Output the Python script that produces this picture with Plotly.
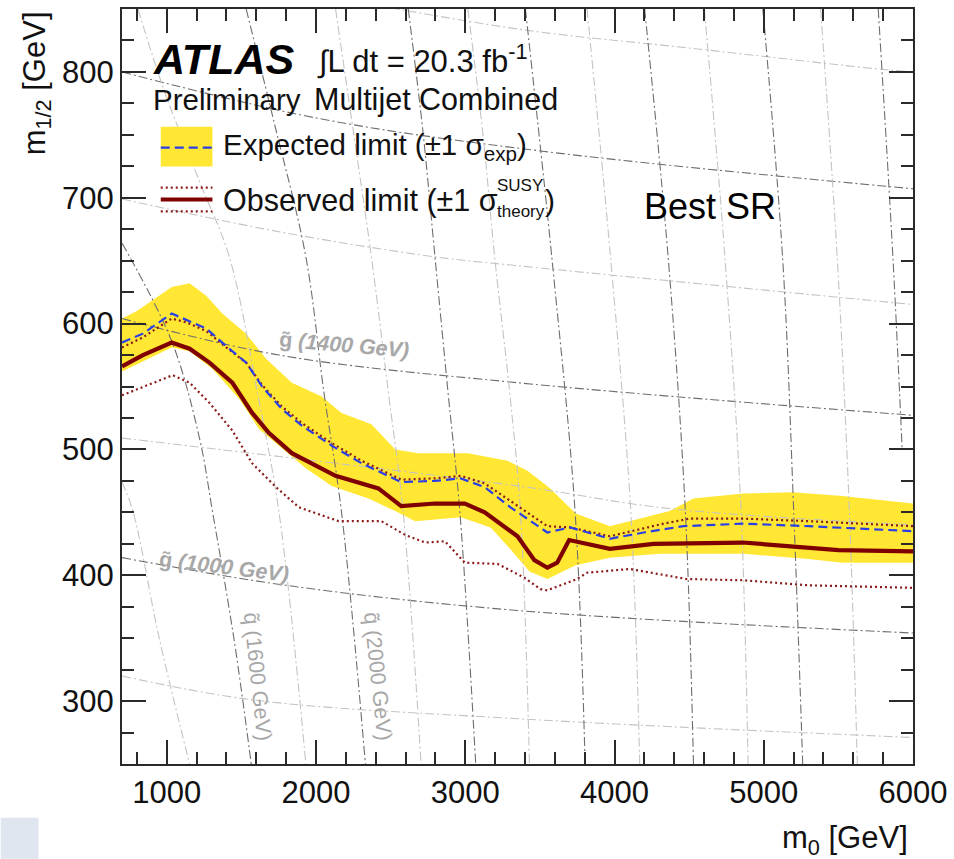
import plotly.graph_objects as go

# ---------------- data (m0 [GeV], m1/2 [GeV]) ----------------
obs_m0 = [700, 840, 1033, 1153, 1286, 1439, 1572, 1685, 1838, 1972, 2131, 2418, 2571, 2797, 2997, 3130, 3350, 3463, 3550, 3616, 3696, 3969, 4262, 4861, 5500, 6000]
obs_m12 = [566, 575, 585, 580, 569, 553, 529, 513, 497, 489, 479, 469, 455, 457, 457, 450, 431, 412, 406, 410, 428, 421, 425, 426, 420, 419]

exp_m0 = [700, 840, 1033, 1133, 1266, 1399, 1532, 1639, 1772, 1905, 2105, 2305, 2571, 2797, 2970, 3130, 3303, 3550, 3703, 3969, 4196, 4462, 4861, 5300, 6000]
exp_m12 = [585, 592, 608, 603, 596, 582, 569, 550, 532, 519, 503, 489, 474, 475, 477, 470, 454, 434, 438, 429, 434, 439, 441, 439, 435]

thup_m0 = [700, 840, 1033, 1133, 1266, 1399, 1532, 1639, 1772, 1905, 2105, 2305, 2571, 2797, 2970, 3130, 3303, 3550, 3703, 3969, 4329, 4502, 4861, 5300, 6000]
thup_m12 = [581, 589, 604, 601, 594, 581, 569, 551, 534, 521, 505, 491, 476, 477, 479, 473, 459, 439, 438, 431, 441, 445, 445, 443, 439]

thdn_m0 = [700, 1040, 1153, 1286, 1439, 1572, 1732, 1885, 2151, 2438, 2598, 2731, 2864, 2997, 3217, 3397, 3503, 3550, 3749, 3816, 4102, 4482, 4861, 5300, 6000]
thdn_m12 = [543, 559, 553, 537, 515, 489, 470, 454, 443, 443, 432, 426, 427, 410, 409, 398, 389, 388, 397, 402, 405, 397, 396, 392, 390]

bandup_m0 = [700, 800, 1033, 1153, 1266, 1372, 1532, 1665, 1838, 2038, 2171, 2371, 2531, 2684, 3017, 3283, 3417, 3570, 3740, 3969, 4369, 4529, 4861, 5194, 5527, 6000]
bandup_m12 = [604, 610, 629, 632, 622, 608, 592, 572, 553, 542, 529, 520, 500, 497, 497, 491, 483, 469, 449, 439, 451, 461, 465, 466, 463, 457]
banddn_m0 = [700, 1033, 1153, 1306, 1486, 1619, 1732, 1932, 2105, 2351, 2531, 2664, 2970, 3170, 3300, 3430, 3550, 3740, 3969, 4302, 4861, 5300, 5527, 6000]
banddn_m12 = [562, 581, 578, 564, 540, 516, 505, 485, 471, 461, 451, 443, 446, 438, 421, 403, 397, 408, 414, 417, 417, 413, 410, 410]

# gluino mass contours
g800_m0 = [700, 1572, 3350, 6013];  g800_m12 = [320, 301, 286, 271]
g1000_m0 = [700, 1799, 3350, 6013]; g1000_m12 = [414, 392, 372, 354]
g1200_m0 = [700, 3350, 4369, 6013]; g1200_m12 = [509, 471, 453, 440]
g1400_m0 = [700, 1752, 3350, 6013]; g1400_m12 = [604, 575, 553, 527]
g1600_m0 = [700, 1752, 2797, 3350, 6013]; g1600_m12 = [699, 673, 653, 646, 615]
g1800_m0 = [700, 2018, 3516, 6013]; g1800_m12 = [800, 763, 737, 707]
g2000_m0 = [2500, 3417, 4500, 5793, 6000]; g2000_m12 = [851, 833, 819, 802, 800]

# squark mass contours
q1400_m0 = [700, 773, 953, 1153]; q1400_m12 = [474, 451, 348, 250]
q1600_m0 = [700, 1033, 1219, 1306, 1452, 1566]; q1600_m12 = [664, 586, 509, 451, 348, 250]
q1800_m0 = [807, 986, 1219, 1419, 1606, 1752, 1932]; q1800_m12 = [850, 784, 713, 653, 546, 450, 250]
q2000_m0 = [1532, 1719, 1932, 2052, 2171, 2331]; q2000_m12 = [850, 760, 653, 546, 450, 250]
q2200_m0 = [2131, 2251, 2371, 2484, 2584, 2704]; q2200_m12 = [850, 752, 653, 546, 450, 250]
q2400_m0 = [2618, 2717, 2797, 2884, 2964, 3070]; q2400_m12 = [850, 752, 653, 546, 450, 250]
q2600_m0 = [3017, 3117, 3197, 3297, 3370, 3430]; q2600_m12 = [850, 752, 653, 546, 450, 250]
q2800_m0 = [3403, 3583, 3736, 3803]; q2800_m12 = [850, 649, 450, 250]
q3000_m0 = [3816, 3976, 4109, 4169]; q3000_m12 = [850, 649, 450, 250]
q3200_m0 = [4202, 4362, 4475, 4529]; q3200_m12 = [850, 649, 450, 250]
q3400_m0 = [4602, 4742, 4848, 4895]; q3400_m12 = [850, 649, 450, 250]
q3600_m0 = [4994, 5128, 5201, 5261]; q3600_m12 = [850, 649, 450, 250]
q3800_m0 = [5381, 5494, 5574, 5627]; q3800_m12 = [850, 649, 450, 250]
q4000_m0 = [5767, 5867, 5927]; q4000_m12 = [850, 649, 501]

x_tickvals = [1000, 2000, 3000, 4000, 5000, 6000]
y_tickvals = [300, 400, 500, 600, 700, 800]
x_minor_step = 200
y_minor_step = 25

# ---------------- figure ----------------
W, H = 954, 859
L, R, T, B = 122, 918, 7, 764
PW, PH = R - L, B - T
def px(x): return (x - L) / PW
def py(y): return (B - y) / PH

FONT = "Liberation Sans, Arial, sans-serif"
DARK = "#6e6e6e"
LIGHT = "#c4c4c4"
AX = "#2a2a2a"
XR = [700, 6000]
YR = [250, 850]

fig = go.Figure()

fig.add_trace(go.Scatter(x=bandup_m0 + banddn_m0[::-1], y=bandup_m12 + banddn_m12[::-1],
                         fill="toself", fillcolor="#ffe733", mode="lines",
                         line=dict(width=0), hoverinfo="skip", showlegend=False))

contours = [
    (g800_m0, g800_m12, LIGHT), (g1000_m0, g1000_m12, DARK), (g1200_m0, g1200_m12, LIGHT),
    (g1400_m0, g1400_m12, DARK), (g1600_m0, g1600_m12, LIGHT), (g1800_m0, g1800_m12, DARK),
    (g2000_m0, g2000_m12, LIGHT),
    (q1400_m0, q1400_m12, LIGHT), (q1600_m0, q1600_m12, DARK), (q1800_m0, q1800_m12, LIGHT),
    (q2000_m0, q2000_m12, DARK), (q2200_m0, q2200_m12, LIGHT), (q2400_m0, q2400_m12, DARK),
    (q2600_m0, q2600_m12, LIGHT), (q2800_m0, q2800_m12, DARK), (q3000_m0, q3000_m12, LIGHT),
    (q3200_m0, q3200_m12, DARK), (q3400_m0, q3400_m12, LIGHT), (q3600_m0, q3600_m12, DARK),
    (q3800_m0, q3800_m12, LIGHT), (q4000_m0, q4000_m12, DARK),
]
for xs, ys, col in contours:
    fig.add_trace(go.Scatter(x=xs, y=ys, mode="lines", line_shape="spline",
                             line=dict(color=col, width=1.1, dash="9px,3px,2px,3px"),
                             hoverinfo="skip", showlegend=False))

fig.add_trace(go.Scatter(x=thdn_m0, y=thdn_m12, mode="lines",
                         line=dict(color="#8b1a1a", width=2.2, dash="2px,3px"), showlegend=False))
fig.add_trace(go.Scatter(x=thup_m0, y=thup_m12, mode="lines",
                         line=dict(color="#8b1a1a", width=2.2, dash="2px,3px"), showlegend=False))
fig.add_trace(go.Scatter(x=exp_m0, y=exp_m12, mode="lines",
                         line=dict(color="#2b3fe6", width=2.2, dash="9px,5px"), showlegend=False))
fig.add_trace(go.Scatter(x=obs_m0, y=obs_m12, mode="lines",
                         line=dict(color="#7f0000", width=4.2), showlegend=False))

tf = dict(family=FONT, size=31, color="#111111")
fig.update_layout(
    xaxis=dict(range=XR, tickmode="array", tickvals=x_tickvals, ticks="inside", ticklen=24,
               tickwidth=2, tickcolor=AX, showline=True, linewidth=2, linecolor=AX,
               mirror="allticks", showgrid=False, zeroline=False, tickfont=tf,
               minor=dict(dtick=x_minor_step, tick0=0, ticks="inside", ticklen=12,
                          tickwidth=1.6, tickcolor=AX, showgrid=False)),
    yaxis=dict(range=YR, tickmode="array", tickvals=y_tickvals, ticks="inside", ticklen=24,
               tickwidth=2, tickcolor=AX, showline=True, linewidth=2, linecolor=AX,
               mirror="allticks", showgrid=False, zeroline=False, tickfont=tf,
               minor=dict(dtick=y_minor_step, tick0=0, ticks="inside", ticklen=12,
                          tickwidth=1.6, tickcolor=AX, showgrid=False)),
)

ann = []
def text(x, y, s, size, color="#111111", xanchor="left", yanchor="middle", angle=0, family=FONT):
    ann.append(dict(x=px(x), y=py(y), xref="paper", yref="paper", text=s, showarrow=False,
                    xanchor=xanchor, yanchor=yanchor, textangle=angle,
                    font=dict(family=family, size=size, color=color)))

text(151, 57, "<b><i>ATLAS</i></b>", 43, color="#000000")
text(316, 57, "∫L dt = 20.3 fb<sup>-1</sup>", 31)
text(151, 98, "Preliminary", 29.5)
text(313, 98, "Multijet Combined", 30.5)
text(222, 145, "Expected limit (±1 σ<sub>exp</sub>)", 29.5)
text(222, 199, "Observed limit (±1 σ", 30.5)
text(497, 184, "SUSY", 17)
text(497, 210, "theory", 17)
text(546, 199, ")", 30)
text(714, 205, "Best SR", 36, color="#000000", xanchor="center")

GRAYTXT = "#a8a8a8"
text(345, 344, "<b>g̃ <i>(1400 GeV)</i></b>", 21.5, color=GRAYTXT, xanchor="center", angle=5)
text(225, 566, "<b>g̃ <i>(1000 GeV)</i></b>", 21.5, color=GRAYTXT, xanchor="center", angle=7)
text(258, 676, "q̃ (1600 GeV)", 21.5, color=GRAYTXT, xanchor="center", angle=84)
text(379, 676, "q̃ (2000 GeV)", 21.5, color=GRAYTXT, xanchor="center", angle=84)

text(36, 82, "m<sub>1/2</sub> [GeV]", 31, xanchor="center", angle=-90)
text(915, 840, "m<sub>0</sub> [GeV]", 31, xanchor="right")

shapes = [
    dict(type="rect", xref="paper", yref="paper", x0=px(161), x1=px(213), y0=py(165), y1=py(125),
         fillcolor="#ffe733", line=dict(width=0)),
    dict(type="line", xref="paper", yref="paper", x0=px(161), x1=px(213), y0=py(146), y1=py(146),
         line=dict(color="#2b3fe6", width=2.2, dash="9px,5px")),
    dict(type="line", xref="paper", yref="paper", x0=px(161), x1=px(213), y0=py(186), y1=py(186),
         line=dict(color="#8b1a1a", width=2.2, dash="2px,3px")),
    dict(type="line", xref="paper", yref="paper", x0=px(161), x1=px(213), y0=py(210), y1=py(210),
         line=dict(color="#8b1a1a", width=2.2, dash="2px,3px")),
    dict(type="line", xref="paper", yref="paper", x0=px(161), x1=px(213), y0=py(198), y1=py(198),
         line=dict(color="#7f0000", width=4.2)),
    dict(type="rect", xref="paper", yref="paper", x0=px(0), x1=px(38), y0=py(859), y1=py(818),
         fillcolor="#dfe6f0", line=dict(width=0), layer="below"),
]

fig.update_layout(width=W, height=H, margin=dict(l=L, r=W - R, t=T, b=H - B, pad=0),
                  paper_bgcolor="white", plot_bgcolor="white", showlegend=False,
                  annotations=ann, shapes=shapes, font=dict(family=FONT))

fig.write_html("out.html")
